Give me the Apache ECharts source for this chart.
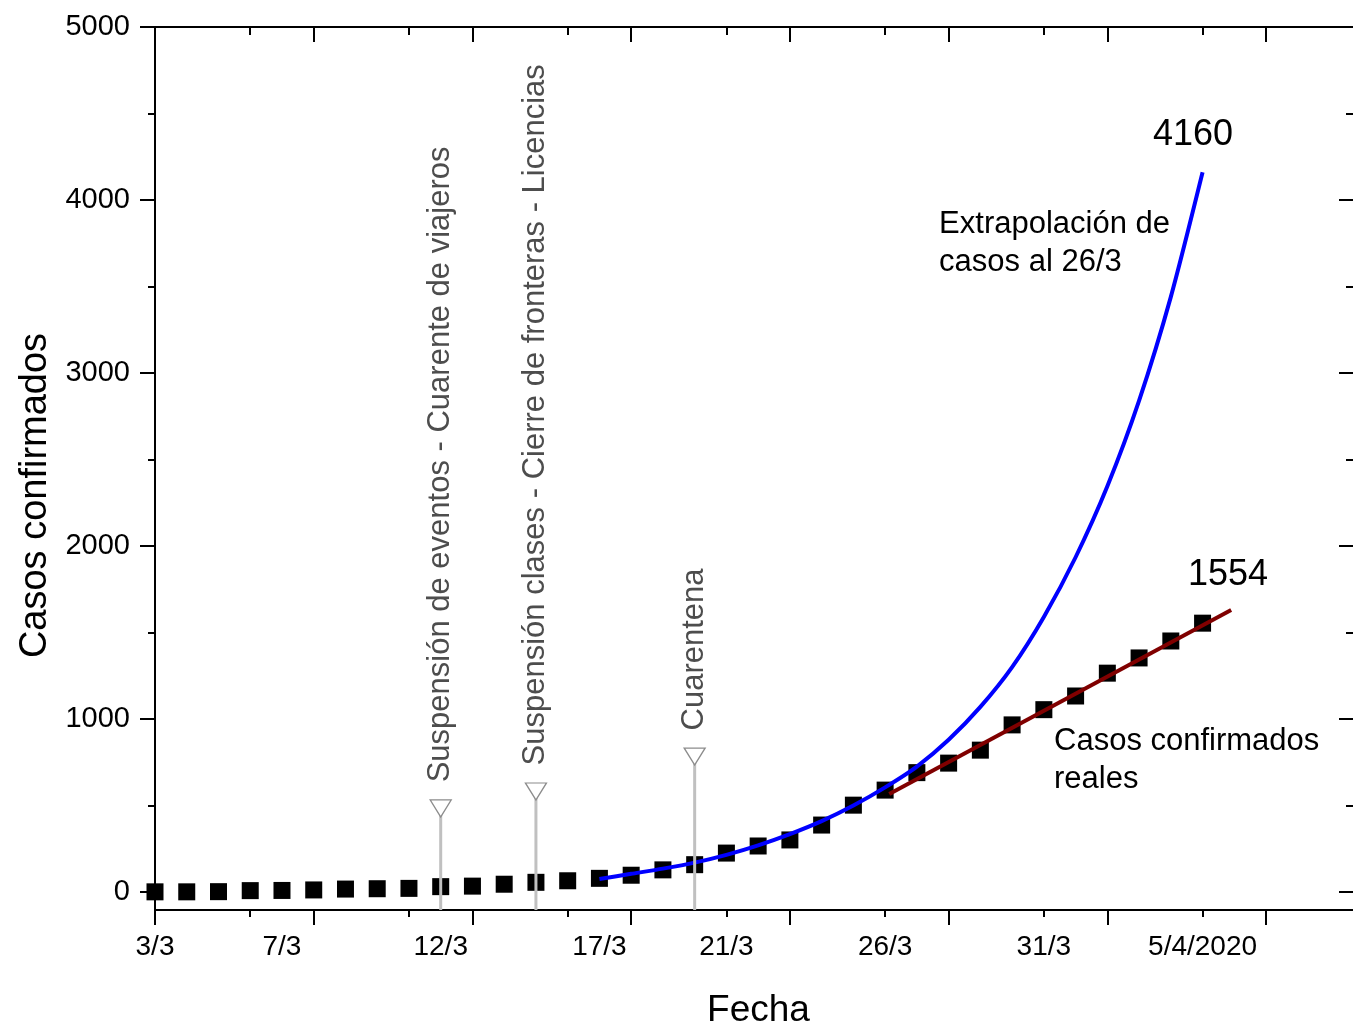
<!DOCTYPE html>
<html><head><meta charset="utf-8">
<script src="https://cdn.jsdelivr.net/npm/echarts@6/dist/echarts.min.js"></script>
<style>html,body{margin:0;padding:0;background:#fff}#c{width:1353px;height:1027px}</style>
</head><body><div id="c"></div>
<script>
// ---- data (days counted from 3/3/2020) ----
const caseDays = [0,1,2,3,4,5,6,7,8,9,10,11,12,13,14,15,16,17,18,19,20,21,22,23,24,25,26,27,28,29,30,31,32,33];
const caseCounts = [1,1,2,8,9,12,17,19,21,31,34,45,56,65,79,97,128,158,225,266,301,387,502,589,690,745,820,966,1054,1133,1265,1353,1451,1554];
const extrapDays = [14,15,16,17,18,19,20,21,22,23,24,25,26,27,28,29,30,31,32,33];
const extrapCounts = [75,105,135,170,215,270,335,410,500,605,725,880,1070,1300,1590,1935,2345,2840,3440,4160];
const trendDays = [23.13, 33.9];
const trendCounts = [566, 1630];
const eventDays = [9, 12, 17];
const eventLevels = [483, 581, 783];
const eventLabels = ['Suspensión de eventos - Cuarente de viajeros','Suspensión clases - Cierre de fronteras - Licencias','Cuarentena'];
const xTickLabels = ['3/3','7/3','12/3','17/3','21/3','26/3','31/3','5/4/2020'];
const xTickLabelDays = [0,4,9,14,18,23,28,33];
const xMajorTickDays = [0,5,10,15,20,25,30,35];
const xMinorTickDays = [3,8,13,18,23,28,33];
const yTickValues = [0,1000,2000,3000,4000,5000];
const yMinorTickValues = [500,1500,2500,3500,4500];

const FONT = '"Liberation Sans", Arial, Helvetica, sans-serif';
const XMIN = 0, XMAX = 37.77, YMIN = -104, YMAX = 5000;
const AX = {color:'#000', width:2};

function xa(pos, ticks, len, inside, showLine, label) {
  return {
    type:'value', position:pos, min:XMIN, max:XMAX, gridIndex:0,
    splitLine:{show:false},
    axisLine:{show:showLine, onZero:false, lineStyle:AX},
    axisTick:{show:true, customValues:ticks, length:len, inside:inside, lineStyle:AX},
    axisLabel: label || {show:false}
  };
}
function ya(pos, ticks, len, inside, showLine, label) {
  return {
    type:'value', position:pos, min:YMIN, max:YMAX, gridIndex:0,
    splitLine:{show:false},
    axisLine:{show:showLine, onZero:false, lineStyle:AX},
    axisTick:{show:true, customValues:ticks, length:len, inside:inside, lineStyle:AX},
    axisLabel: label || {show:false}
  };
}

const xBottom = xa('bottom', xMajorTickDays, 15, false, true, {
  show:true, customValues:xTickLabelDays, margin:23, fontSize:28, color:'#000', fontFamily:FONT,
  formatter: v => { const i = xTickLabelDays.indexOf(Math.round(v)); return i >= 0 ? xTickLabels[i] : ''; }
});
xBottom.name = 'Fecha';
xBottom.nameLocation = 'middle';
xBottom.nameGap = 82;
xBottom.nameTextStyle = {fontSize:37, color:'#000', fontFamily:FONT, padding:[0,0,0,8]};

const yLeft = ya('left', yTickValues, 15, false, true, {
  show:true, customValues:yTickValues, margin:25, fontSize:29, color:'#000', fontFamily:FONT,
  formatter: v => String(v)
});
yLeft.name = 'Casos confirmados';
yLeft.nameLocation = 'middle';
yLeft.nameRotate = 90;
yLeft.nameGap = 96;
yLeft.nameTextStyle = {fontSize:38, color:'#000', fontFamily:FONT, padding:[0,54,0,0]};

const eventLineSeries = eventDays.map((d, i) => ({
  type:'line', xAxisIndex:0, yAxisIndex:0, z:5, silent:true,
  showSymbol:false, symbol:'none',
  lineStyle:{color:'#c0c0c0', width:3},
  data:[[d, YMIN], [d, eventLevels[i]]]
}));

const option = {
  animation:false,
  backgroundColor:'#fff',
  grid:{left:155, top:27, width:1199, height:883, containLabel:false, outerBoundsMode:'none'},
  xAxis:[
    xBottom,
    xa('bottom', xMinorTickDays, 7, false, false),
    xa('top', xMajorTickDays, 15, true, true),
    xa('top', xMinorTickDays, 8, true, false)
  ],
  yAxis:[
    yLeft,
    ya('left', yMinorTickValues, 7, false, false),
    ya('right', yTickValues, 15, true, true),
    ya('right', yMinorTickValues, 8, true, false)
  ],
  series:[
    {
      type:'scatter', xAxisIndex:0, yAxisIndex:0, z:2,
      symbol:'rect', symbolSize:17,
      itemStyle:{color:'#000', opacity:1},
      data: caseDays.map((d, i) => [d, caseCounts[i]])
    },
    {
      type:'line', xAxisIndex:0, yAxisIndex:0, z:3,
      showSymbol:false, symbol:'none', smooth:0.25,
      lineStyle:{color:'#0000ff', width:4},
      data: extrapDays.map((d, i) => [d, extrapCounts[i]])
    },
    {
      type:'line', xAxisIndex:0, yAxisIndex:0, z:4,
      showSymbol:false, symbol:'none',
      lineStyle:{color:'#800000', width:4},
      data: trendDays.map((d, i) => [d, trendCounts[i]])
    },
    ...eventLineSeries,
    {
      type:'scatter', xAxisIndex:0, yAxisIndex:0, z:6, silent:true,
      symbol:'path://M0,0 L20,0 L10,17 Z', symbolSize:[21,17],
      itemStyle:{color:'#fff', borderColor:'#8c8c8c', borderWidth:1.3, opacity:1},
      label:{show:true, position:'top', distance:14, rotate:90, align:'left', verticalAlign:'middle',
        offset:[3,0], fontSize:31, color:'#4d4d4d', fontFamily:FONT, formatter: p => eventLabels[p.dataIndex]},
      data: eventDays.map((d, i) => [d, eventLevels[i]])
    },
    {
      type:'scatter', xAxisIndex:0, yAxisIndex:0, z:7, silent:true,
      symbolSize:1, itemStyle:{color:'rgba(0,0,0,0)', opacity:1},
      label:{show:true, position:'inside', color:'#000', fontFamily:FONT, verticalAlign:'middle'},
      data:[
        {value:[32.7, 4376], label:{formatter:String(extrapCounts[extrapCounts.length-1]), align:'center', fontSize:36}},
        {value:[33.8, 1832], label:{formatter:String(caseCounts[caseCounts.length-1]), align:'center', fontSize:36}},
        {value:[24.7, 3746], label:{formatter:'Extrapolación de\ncasos al 26/3', align:'left', fontSize:31, lineHeight:38}},
        {value:[28.32, 763], label:{formatter:'Casos confirmados\nreales', align:'left', fontSize:31, lineHeight:38}}
      ]
    }
  ]
};

const chart = echarts.init(document.getElementById('c'), null, {renderer:'canvas'});
chart.setOption(option);
</script>
</body></html>
